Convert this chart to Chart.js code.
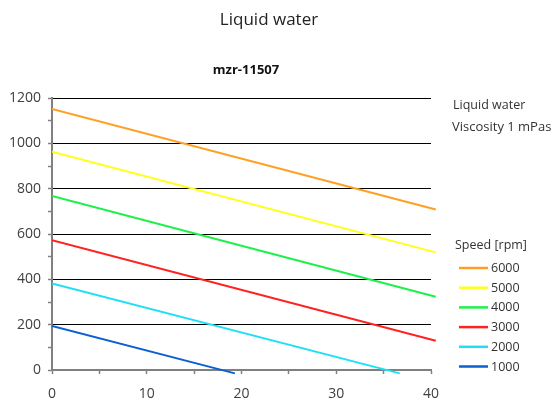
<!DOCTYPE html>
<html>
<head>
<meta charset="utf-8">
<script src="https://cdn.jsdelivr.net/npm/chart.js@4"></script>
<style>
html,body{margin:0;padding:0;background:#fff;}
canvas{display:block;}
</style>
</head>
<body>
<canvas id="c" width="552" height="405"></canvas>
<script>
// ---- data ----
const speeds = ['6000', '5000', '4000', '3000', '2000', '1000'];
const flow6000 = [0, 40.5];  const pressure6000 = [1152, 708];
const flow5000 = [0, 40.5];  const pressure5000 = [963, 519];
const flow4000 = [0, 40.5];  const pressure4000 = [768, 323];
const flow3000 = [0, 40.5];  const pressure3000 = [573, 129];
const flow2000 = [0, 36.7];  const pressure2000 = [382, -15];
const flow1000 = [0, 19.3];  const pressure1000 = [194, -15];
const xTicks = [0, 10, 20, 30, 40];
const yTicks = [0, 200, 400, 600, 800, 1000, 1200];

const flows = [flow6000, flow5000, flow4000, flow3000, flow2000, flow1000];
const pressures = [pressure6000, pressure5000, pressure4000, pressure3000, pressure2000, pressure1000];
const colors = ['#FFA024', '#FFFF1A', '#1EF04A', '#FF2222', '#1EE0F5', '#0A5FD2'];

const FONT = "'Open Sans', 'DejaVu Sans', sans-serif";

const datasets = speeds.map((s, i) => ({
  label: s,
  data: flows[i].map((x, j) => ({x: x, y: pressures[i][j]})),
  borderColor: colors[i],
  backgroundColor: colors[i],
  borderWidth: 2,
  pointRadius: 0,
  pointHoverRadius: 0,
  fill: false,
  tension: 0,
  clip: {left: 0, top: 0, right: 8, bottom: 6}
}));

const textPlugin = {
  id: 'texts',
  afterDraw(chart) {
    const ctx = chart.ctx;
    ctx.save();
    ctx.textBaseline = 'middle';
    // main title
    ctx.fillStyle = '#222';
    ctx.font = "17px " + FONT;
    ctx.textAlign = 'center';
    ctx.fillText('Liquid water', 269, 20);
    // subtitle
    ctx.font = "bold 13px " + FONT;
    ctx.fillStyle = '#111';
    ctx.fillText('mzr-11507', 246, 70);
    // right info
    ctx.textAlign = 'left';
    ctx.fillStyle = '#333';
    ctx.font = "12.5px " + FONT;
    ctx.fillText('Liquid water', 453, 105);
    ctx.font = "13px " + FONT;
    ctx.fillText('Viscosity 1 mPas', 452, 127);
    ctx.font = "12.5px " + FONT;
    ctx.fillText('Speed [rpm]', 455, 245);
    // legend
    chart.data.datasets.forEach((ds, i) => {
      const y = 268 + i * 19.7;
      ctx.strokeStyle = ds.borderColor;
      ctx.lineWidth = 2.5;
      ctx.beginPath();
      ctx.moveTo(459, y);
      ctx.lineTo(488, y);
      ctx.stroke();
      ctx.fillStyle = '#333';
      ctx.font = "12.5px " + FONT;
      ctx.fillText(ds.label, 491, y + 0.5);
    });
    ctx.restore();
  }
};

new Chart(document.getElementById('c'), {
  type: 'line',
  data: {datasets: datasets},
  plugins: [textPlugin],
  options: {
    responsive: false,
    animation: false,
    layout: {padding: {left: 0, top: 98, right: 121, bottom: 0}},
    plugins: {
      legend: {display: false},
      title: {display: false},
      tooltip: {enabled: false}
    },
    scales: {
      x: {
        type: 'linear',
        min: xTicks[0],
        max: xTicks[xTicks.length - 1],
        afterFit(scale) { scale.height = 35; },
        ticks: {
          stepSize: 5,
          autoSkip: false,
          maxRotation: 0,
          padding: 12,
          color: '#404040',
          font: {family: FONT, size: 14},
          callback: v => xTicks.includes(v) ? String(v) : ''
        },
        grid: {
          drawOnChartArea: false,
          drawTicks: true,
          tickLength: 4,
          tickColor: '#808080',
          tickWidth: 1.5
        },
        border: {display: true, color: '#808080', width: 2}
      },
      y: {
        type: 'linear',
        min: yTicks[0],
        max: yTicks[yTicks.length - 1],
        afterFit(scale) { scale.width = 52; },
        ticks: {
          stepSize: 100,
          autoSkip: false,
          padding: 7,
          color: '#404040',
          font: {family: FONT, size: 14},
          callback: v => yTicks.includes(v) ? String(v) : ''
        },
        grid: {
          color: c => (c.tick && yTicks.includes(c.tick.value) && c.tick.value !== 0) ? '#000' : 'rgba(0,0,0,0)',
          lineWidth: 1,
          drawTicks: true,
          tickLength: 4,
          tickColor: '#808080',
          tickWidth: 1.5
        },
        border: {display: true, color: '#808080', width: 2}
      }
    }
  }
});
</script>
</body>
</html>
